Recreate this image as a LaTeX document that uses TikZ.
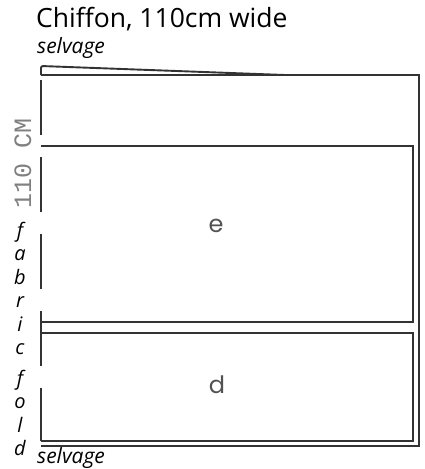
\documentclass[tikz,border=0pt]{standalone}
\usepackage{fontspec}
\setmainfont{Open Sans}
\newfontfamily\monofont{Liberation Mono}
\newfontfamily\piecefont{Poppins}
\usetikzlibrary{positioning}

\definecolor{inkgray}{HTML}{333333}
\definecolor{softgray}{HTML}{808080}

\begin{document}
\begin{tikzpicture}[x=1pt, y=-1pt,
    cut/.style={draw=inkgray, line width=1.9pt},
    foldline/.style={cut, dash pattern=on 55pt off 22pt},
    piecelabel/.style={font=\piecefont\fontsize{24}{24}\selectfont, text=inkgray!85},
    selvlabel/.style={font=\itshape\fontsize{21}{21}\selectfont, inner sep=0pt}]
  \useasboundingbox (0,0) rectangle (425,469);

  % Angoli del tessuto
  \coordinate (fabTL) at (41,75);
  \coordinate (fabTR) at (419,75);
  \coordinate (fabBR) at (419,446);
  \coordinate (fabBL) at (41,446);
  \coordinate (wedgeTop) at (41,66);
  \coordinate (wedgeEnd) at (285,75);

  % Pezzi tagliati
  \coordinate (eTL) at (41,146);
  \coordinate (eBR) at (413,322);
  \coordinate (dTL) at (41,333);
  \coordinate (dBR) at (413,441);

  % Testi
  \node[anchor=base west, inner sep=0pt, font=\fontsize{26.5}{26.5}\selectfont] (title) at (36,27) {Chiffon, 110cm wide};
  \node[selvlabel, anchor=base west] (selvTop) at (37,53) {selvage};
  \node[selvlabel, anchor=base west] (selvBot) at (37,463) {selvage};
  \node[rotate=90, text=softgray, font=\monofont\fontsize{25}{25}\selectfont, inner sep=0pt] (width) at (23,163) {110 CM};
  \node[align=center, inner sep=0pt, font=\itshape\fontsize{20}{23.5}\selectfont] (fold) at (20,339) {f\\a\\b\\r\\i\\c\\[7pt]f\\o\\l\\d};
  \node[piecelabel] (pieceE) at (216,226) {e};
  \node[piecelabel] (pieceD) at (217,385) {d};

  % Contorni
  \draw[cut] (fabTL) -- (fabTR) -- (fabBR) -- (fabBL);
  \draw[cut, rounded corners=2pt] (fabTL) -- (wedgeTop) -- (wedgeEnd);
  \draw[foldline] (41,80) -- (41,441);
  \draw[cut] (eTL) -- (eTL -| eBR) -- (eBR) -- (eBR -| eTL);
  \draw[cut] (dTL) -- (dTL -| dBR) -- (dBR) -- (dBR -| dTL);
\end{tikzpicture}
\end{document}
